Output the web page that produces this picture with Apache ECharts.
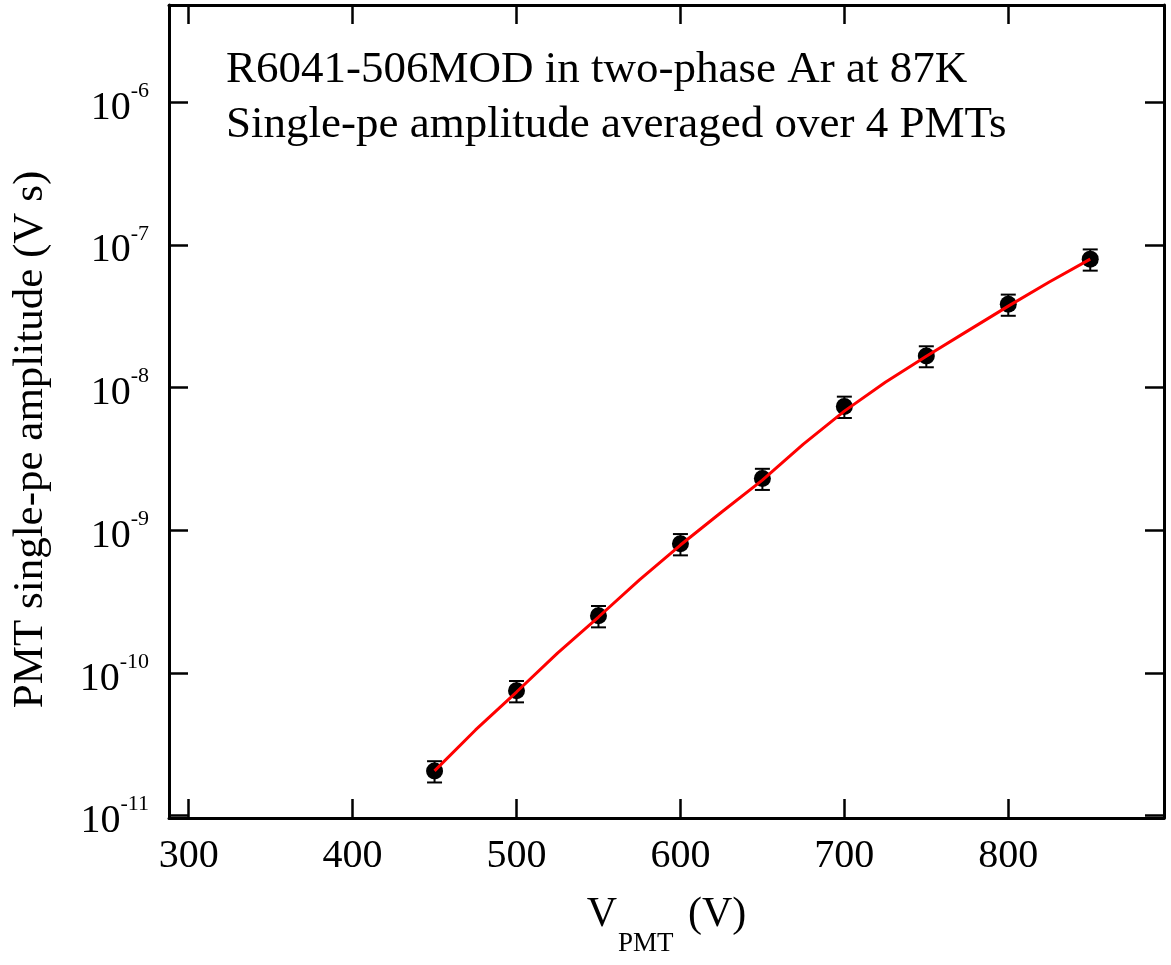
<!DOCTYPE html>
<html>
<head>
<meta charset="utf-8">
<script src="https://cdn.jsdelivr.net/npm/echarts@6/dist/echarts.min.js"></script>
<style>
  html, body { margin: 0; padding: 0; background: #fff; }
  #chart { width: 1171px; height: 965px; }
</style>
</head>
<body>
<div id="chart"></div>
<script>
// ---- data ----
const voltages = [450, 500, 550, 600, 650, 700, 750, 800, 850];
const amplitude = [2.06e-11, 7.51e-11, 2.52e-10, 8.05e-10, 2.31e-9, 7.39e-9, 1.67e-8, 3.84e-8, 7.96e-8];
const ampError = [0.35e-11, 1.28e-11, 0.43e-10, 1.37e-10, 0.39e-9, 1.26e-9, 0.28e-8, 0.65e-8, 1.35e-8];

const fitVoltages = [450, 475, 500, 525, 550, 575, 600, 625, 650, 675, 700, 725, 750, 775, 800, 825, 850];
const fitAmplitude = [2.06e-11, 3.99e-11, 7.36e-11, 1.38e-10, 2.47e-10, 4.49e-10, 7.89e-10, 1.34e-9, 2.25e-9,
                      4.02e-9, 6.85e-9, 1.09e-8, 1.66e-8, 2.49e-8, 3.73e-8, 5.50e-8, 7.96e-8];

const xTickValues = [300, 400, 500, 600, 700, 800];
const annotationLines = ['R6041-506MOD in two-phase Ar at 87K', 'Single-pe amplitude averaged over 4 PMTs'];
const xTitle = ['V', 'PMT', ' (V)'];
const yTitle = 'PMT single-pe amplitude (V s)';

// ---- build ----
const FONT = '"Liberation Serif", "Times New Roman", serif';
const X_MIN = 288, X_MAX = 895;
const Y_MIN = Math.pow(10, -11.016), Y_MAX = Math.pow(10, -5.318);

const pointData = voltages.map((v, i) => [v, amplitude[i]]);
const errData = voltages.map((v, i) => [v, amplitude[i] - ampError[i], amplitude[i] + ampError[i]]);
const fitData = fitVoltages.map((v, i) => [v, fitAmplitude[i]]);

function xLabel(v) {
  return xTickValues.indexOf(Math.round(v)) >= 0 && Math.abs(v - Math.round(v)) < 1e-6 ? String(Math.round(v)) : '';
}
function yLabel(v) {
  const e = Math.log10(v);
  const r = Math.round(e);
  if (Math.abs(e - r) > 1e-6) return '';
  return '{b|10}{e|' + r + '}';
}

const axisCommon = {
  axisLine: { show: true, onZero: false, lineStyle: { color: '#000', width: 3 } },
  axisTick: { show: true, inside: true, length: 19, lineStyle: { color: '#000', width: 2.5 } },
  splitLine: { show: false },
  minorTick: { show: false }
};

const chart = echarts.init(document.getElementById('chart'), null, { renderer: 'canvas' });
chart.setOption({
  backgroundColor: '#fff',
  animation: false,
  grid: { left: 169, right: 7, top: 5, bottom: 147, containLabel: false, outerBoundsMode: 'none' },
  xAxis: [
    Object.assign({}, axisCommon, {
      type: 'value', position: 'bottom', min: X_MIN, max: X_MAX, minInterval: 100, maxInterval: 100,
      axisLabel: { show: true, formatter: xLabel, fontFamily: FONT, fontSize: 40, color: '#000', margin: 18,
                   showMinLabel: false, showMaxLabel: false },
      name: '{v|' + xTitle[0] + '}{s|' + xTitle[1] + '}{v|' + xTitle[2] + '}',
      nameLocation: 'middle', nameGap: 76,
      nameTextStyle: {
        fontFamily: FONT, color: '#000',
        rich: {
          v: { fontFamily: FONT, fontSize: 42, lineHeight: 50, verticalAlign: 'top', color: '#000' },
          s: { fontFamily: FONT, fontSize: 27, lineHeight: 27, verticalAlign: 'top', padding: [36, 4, 0, 1], color: '#000' }
        }
      }
    }),
    Object.assign({}, axisCommon, {
      type: 'value', position: 'top', min: X_MIN, max: X_MAX, minInterval: 100, maxInterval: 100,
      axisLabel: { show: false }
    })
  ],
  yAxis: [
    Object.assign({}, axisCommon, {
      type: 'log', logBase: 10, position: 'left', min: Y_MIN, max: Y_MAX,
      axisLabel: {
        show: true, formatter: yLabel, margin: 20, showMinLabel: false, showMaxLabel: false,
        rich: {
          b: { fontFamily: FONT, fontSize: 40, lineHeight: 44, verticalAlign: 'top', padding: [8, 0, 0, 0], color: '#000' },
          e: { fontFamily: FONT, fontSize: 22, lineHeight: 22, verticalAlign: 'top', color: '#000' }
        }
      },
      name: yTitle, nameLocation: 'middle', nameRotate: 90, nameGap: 117,
      nameTextStyle: { fontFamily: FONT, fontSize: 43, color: '#000', padding: [0, 56, 0, 0] }
    }),
    Object.assign({}, axisCommon, {
      type: 'log', logBase: 10, position: 'right', min: Y_MIN, max: Y_MAX,
      axisLabel: { show: false }
    })
  ],
  graphic: [
    { type: 'text', x: 226, y: 70, z: 100,
      style: { text: annotationLines[0], font: '45px ' + FONT, fill: '#000', verticalAlign: 'middle', align: 'left' } },
    { type: 'text', x: 226, y: 125, z: 100,
      style: { text: annotationLines[1], font: '45px ' + FONT, fill: '#000', verticalAlign: 'middle', align: 'left' } }
  ],
  series: [
    {
      type: 'custom', name: 'errors', xAxisIndex: 0, yAxisIndex: 0, z: 2,
      data: errData, encode: { x: 0, y: [1, 2] }, clip: false,
      renderItem: function (params, api) {
        const x = api.value(0);
        const pLo = api.coord([x, api.value(1)]);
        const pHi = api.coord([x, api.value(2)]);
        const hw = 7.5;
        const st = { stroke: '#000', lineWidth: 2, fill: null };
        return {
          type: 'group',
          children: [
            { type: 'line', shape: { x1: pLo[0], y1: pLo[1], x2: pHi[0], y2: pHi[1] }, style: st },
            { type: 'line', shape: { x1: pLo[0] - hw, y1: pLo[1], x2: pLo[0] + hw, y2: pLo[1] }, style: st },
            { type: 'line', shape: { x1: pHi[0] - hw, y1: pHi[1], x2: pHi[0] + hw, y2: pHi[1] }, style: st }
          ]
        };
      }
    },
    {
      type: 'scatter', name: 'data', xAxisIndex: 0, yAxisIndex: 0, z: 3,
      data: pointData, symbol: 'circle', symbolSize: 17,
      itemStyle: { color: '#000', opacity: 1 }
    },
    {
      type: 'line', name: 'fit', xAxisIndex: 0, yAxisIndex: 0, z: 4,
      data: fitData, showSymbol: false, symbol: 'none', smooth: false,
      lineStyle: { color: '#ff0000', width: 3 }
    }
  ]
});
</script>
</body>
</html>
